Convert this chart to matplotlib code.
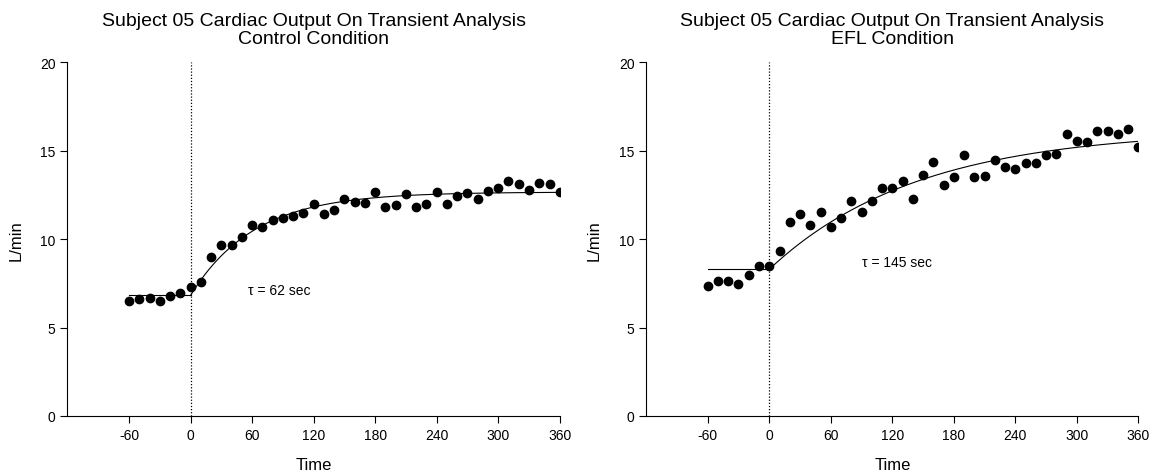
import numpy as np
import matplotlib.pyplot as plt

plt.rcParams["font.family"] = ["Liberation Sans", "DejaVu Sans"]
plt.rcParams["axes.unicode_minus"] = False

# sample times (s) relative to onset
time = np.arange(-60, 361, 10)

# cardiac output, L/min
co_control = [6.5, 6.6, 6.7, 6.5, 6.8, 6.95, 7.3, 7.6, 9.0, 9.65, 9.7, 10.1,
              10.8, 10.7, 11.1, 11.2, 11.3, 11.5, 12.0, 11.45, 11.65, 12.3,
              12.1, 12.05, 12.7, 11.85, 11.95, 12.55, 11.85, 12.0, 12.7, 12.0,
              12.45, 12.6, 12.3, 12.75, 12.9, 13.3, 13.1, 12.8, 13.2, 13.1, 12.7]
co_efl = [7.35, 7.65, 7.65, 7.45, 7.95, 8.5, 8.5, 9.35, 11.0, 11.45, 10.8,
          11.55, 10.7, 11.2, 12.15, 11.55, 12.15, 12.9, 12.9, 13.3, 12.25, 13.65,
          14.35, 13.05, 13.5, 14.75, 13.5, 13.55, 14.5, 14.1, 14.0, 14.3, 14.3,
          14.75, 14.8, 15.95, 15.55, 15.5, 16.1, 16.15, 15.95, 16.25, 15.2]

# mono-exponential fit parameters: baseline, amplitude, tau (s)
fit_control = (6.82, 5.85, 62)
fit_efl = (8.3, 7.9, 145)

panels = [
    ("Control Condition", co_control, fit_control, (56, 7.15)),
    ("EFL Condition", co_efl, fit_efl, (90, 8.7)),
]

fig = plt.figure(figsize=(11.57, 4.77), dpi=100)
lefts = [0.0583, 0.5585]

for left, (cond, values, (base, amp, tau), txt_pos) in zip(lefts, panels):
    ax = fig.add_axes([left, 0.1258, 0.4255, 0.7411])

    ax.plot(time, values, "o", color="black", ms=6, zorder=3)

    t_pre = np.array([-60, 0])
    t_post = np.linspace(0, 360, 200)
    ax.plot(t_pre, [base, base], color="black", lw=0.8)
    ax.plot(t_post, base + amp * (1 - np.exp(-t_post / tau)), color="black", lw=0.8)

    ax.axvline(0, color="black", ls=(0, (1, 1.5)), lw=0.9)

    ax.text(txt_pos[0], txt_pos[1], f"τ = {tau} sec", fontsize=10, va="center")

    ax.set_xlim(-120, 360)
    ax.set_ylim(0, 20)
    ax.set_xticks(range(-60, 361, 60))
    ax.set_yticks(range(0, 21, 5))
    ax.tick_params(labelsize=10, length=5, width=0.8, direction="out")
    for side in ("top", "right"):
        ax.spines[side].set_visible(False)
    for side in ("left", "bottom"):
        ax.spines[side].set_linewidth(0.8)

    ax.set_xlabel("Time", fontsize=12, labelpad=11)
    ax.set_ylabel("L/min", fontsize=12, labelpad=12)
    ax.set_title("Subject 05 Cardiac Output On Transient Analysis\n" + cond,
                 fontsize=14, pad=14, linespacing=1.05)

fig.savefig("out.png", dpi=100)
